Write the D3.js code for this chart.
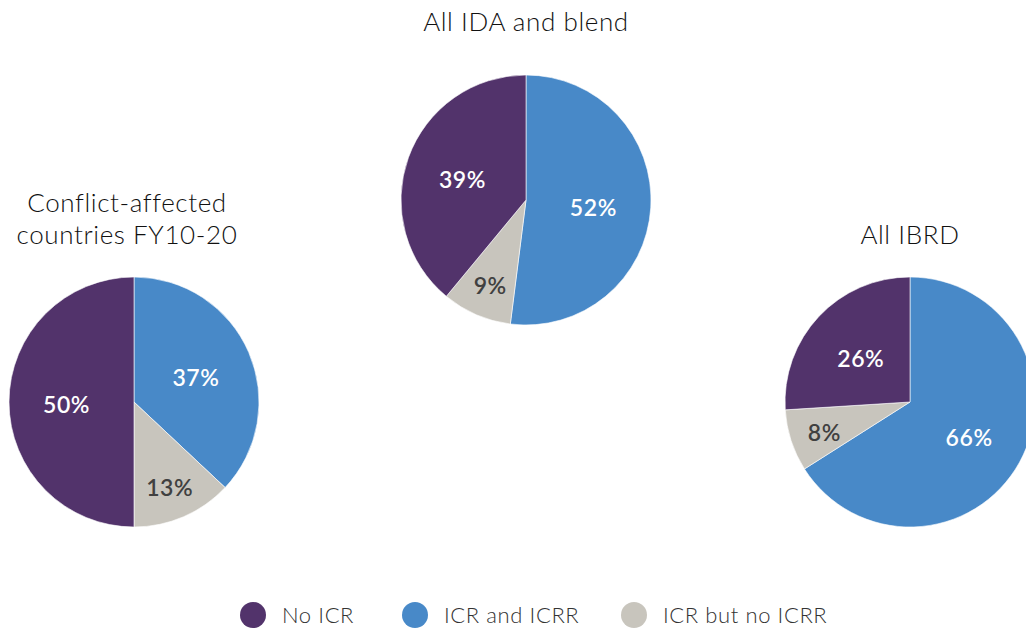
<!DOCTYPE html>
<html>
<head>
<meta charset="utf-8">
<script src="https://cdn.jsdelivr.net/npm/d3@7"></script>
<style>
  body { margin: 0; background: #fff; }
  svg text { font-family: Lato, "Open Sans", sans-serif; }
</style>
</head>
<body>
<svg id="chart" width="1026" height="630"></svg>
<script>
// categories, in clockwise order from 12 o'clock
var categories = ["ICR and ICRR", "ICR but no ICRR", "No ICR"];
var legend_order = ["No ICR", "ICR and ICRR", "ICR but no ICRR"];
var colors = {"No ICR": "#52336b", "ICR and ICRR": "#4889c8", "ICR but no ICRR": "#c8c5bd"};

var pie_titles = [["Conflict-affected", "countries FY10-20"], ["All IDA and blend"], ["All IBRD"]];
var conflict_values = [37, 13, 50];
var ida_values = [52, 9, 39];
var ibrd_values = [66, 8, 26];

var svg = d3.select("#chart");
var r = 125;

var pies = [
  {title: pie_titles[0], values: conflict_values, cx: 134, cy: 402, ty: 203},
  {title: pie_titles[1], values: ida_values, cx: 526, cy: 200, ty: 22},
  {title: pie_titles[2], values: ibrd_values, cx: 910, cy: 402, ty: 235}
];

var pie = d3.pie().sort(null).value(d => d.v);
var arc = d3.arc().innerRadius(0).outerRadius(r);

pies.forEach(function(p) {
  var g = svg.append("g").attr("transform", "translate(" + p.cx + "," + p.cy + ")");
  var data = categories.map((c, i) => ({cat: c, v: p.values[i]}));
  var arcs = pie(data);

  g.selectAll("path")
    .data(arcs)
    .enter().append("path")
    .attr("d", arc)
    .style("fill", d => colors[d.data.cat])
    .style("stroke", "#fff")
    .style("stroke-width", 0.6);

  g.selectAll("text.lbl")
    .data(arcs)
    .enter().append("text")
    .attr("class", "lbl")
    .attr("transform", function(d) {
      var frac = d.data.v < 15 ? 0.72 : 0.54;
      var c = d3.arc().innerRadius(r * frac).outerRadius(r * frac).centroid(d);
      return "translate(" + c[0] + "," + (c[1] + 3) + ")";
    })
    .attr("text-anchor", "middle")
    .attr("dy", "0.36em")
    .style("font-size", "23px")
    .style("font-weight", 600)
    .style("letter-spacing", "0.6px")
    .style("fill", d => d.data.cat == "ICR but no ICRR" ? "#404040" : "#fff")
    .text(d => d.data.v + "%");

  // title (two-line one sits a bit left of its pie, like the source)
  var tx = p.title.length > 1 ? p.cx - 7 : p.cx;
  p.title.forEach(function(line, i) {
    svg.append("text")
      .attr("x", tx)
      .attr("y", p.ty + i * 32)
      .attr("dy", "0.36em")
      .attr("text-anchor", "middle")
      .style("font-size", "26px")
      .style("font-weight", 300)
      .style("letter-spacing", "0.6px")
      .style("fill", "#111")
      .text(line);
  });
});

// legend
var legend_x = [253, 415, 634];
var legend = svg.append("g").attr("transform", "translate(0,615)");
var items = legend.selectAll("g")
  .data(legend_order)
  .enter().append("g")
  .attr("transform", (d, i) => "translate(" + legend_x[i] + ",0)");
items.append("circle")
  .attr("r", 13)
  .style("fill", d => colors[d]);
items.append("text")
  .attr("x", 29)
  .attr("dy", "0.36em")
  .style("font-size", "22px")
  .style("font-weight", 300)
  .style("letter-spacing", "0.6px")
  .style("fill", "#333")
  .text(d => d);
</script>
</body>
</html>
